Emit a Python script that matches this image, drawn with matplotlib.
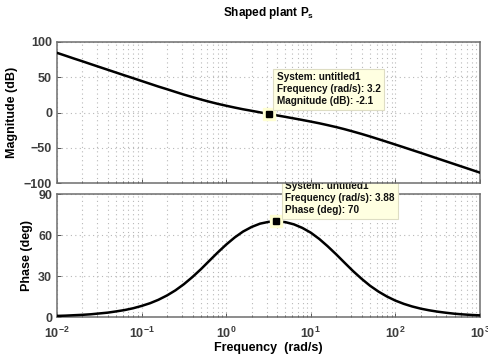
"""Bode plot of the shaped plant Ps with two MATLAB-style data tips."""

import matplotlib

matplotlib.use("Agg")
import matplotlib.pyplot as plt
import numpy as np
from matplotlib.ticker import FuncFormatter, LogLocator, NullFormatter

plt.rcParams["font.family"] = ["Liberation Sans", "DejaVu Sans"]
plt.rcParams["font.weight"] = "bold"
plt.rcParams["mathtext.fontset"] = "custom"
plt.rcParams["mathtext.rm"] = "Liberation Sans:bold"
plt.rcParams["mathtext.it"] = "Liberation Sans:bold"
plt.rcParams["mathtext.bf"] = "Liberation Sans:bold"

# values (rad/s, dB, deg)
freq = [
    0.01, 0.0126, 0.0158, 0.02, 0.0251, 0.0316, 0.0398, 0.0501, 0.0631, 0.0794,
    0.1, 0.126, 0.158, 0.2, 0.251, 0.316, 0.398, 0.501, 0.631, 0.794,
    1, 1.26, 1.58, 2, 2.51, 3.16, 3.98, 5.01, 6.31, 7.94,
    10, 12.6, 15.8, 20, 25.1, 31.6, 39.8, 50.1, 63.1, 79.4,
    100, 126, 158, 200, 251, 316, 398, 501, 631, 794, 1000,
]
mag_db = [
    84.6, 80.6, 76.6, 72.6, 68.6, 64.6, 60.6, 56.6, 52.6, 48.7,
    44.7, 40.7, 36.8, 33.0, 29.2, 25.4, 21.9, 18.5, 15.3, 12.3,
    9.6, 7.0, 4.6, 2.4, 0.2, -2.0, -4.1, -6.2, -8.4, -10.6,
    -12.9, -15.3, -17.9, -20.7, -23.7, -27.0, -30.4, -34.0, -37.8, -41.6,
    -45.5, -49.4, -53.3, -57.3, -61.3, -65.3, -69.3, -73.3, -77.3, -81.3, -85.3,
]
phase_deg = [
    0.8, 1.0, 1.3, 1.6, 2.0, 2.6, 3.2, 4.1, 5.1, 6.4,
    8.1, 10.1, 12.6, 15.8, 19.5, 24.0, 29.2, 34.9, 41.1, 47.2,
    53.0, 58.2, 62.5, 65.9, 68.3, 69.6, 70.0, 69.4, 67.8, 65.2,
    61.7, 57.1, 51.8, 45.8, 39.7, 33.6, 28.0, 22.9, 18.6, 15.0,
    12.0, 9.6, 7.7, 6.1, 4.9, 3.9, 3.1, 2.4, 1.9, 1.5, 1.2,
]

mag_tip = (3.2, -2.1)
phase_tip = (3.88, 70)
mag_ticks = [-100, -50, 0, 50, 100]
phase_ticks = [0, 30, 60, 90]

TICK_COLOR = "#3c3c3c"
SPINE_COLOR = "#6e6e6e"
GRID_COLOR = "#b8b8b8"
GRID_STYLE = (0, (1, 3))


def style_axes(ax):
    ax.set_xscale("log")
    ax.set_xlim(1e-2, 1e3)
    ax.xaxis.set_major_locator(LogLocator(base=10, numticks=10))
    ax.xaxis.set_minor_locator(LogLocator(base=10, subs=np.arange(2, 10), numticks=20))
    ax.xaxis.set_minor_formatter(NullFormatter())
    ax.grid(True, which="major", axis="both", linestyle=GRID_STYLE, linewidth=0.8, color=GRID_COLOR)
    ax.grid(True, which="minor", axis="x", linestyle=GRID_STYLE, linewidth=0.8, color=GRID_COLOR)
    ax.tick_params(axis="both", which="both", direction="in", colors=TICK_COLOR,
                   labelsize=9, length=3, width=0.6)
    ax.tick_params(axis="both", which="minor", length=1.8)
    ax.tick_params(axis="x", which="major", pad=6)
    for sp in ax.spines.values():
        sp.set_color(SPINE_COLOR)
        sp.set_linewidth(1.1)


def datatip(ax, xy, text, offset):
    ax.plot(*xy, marker="s", markersize=8, color="#ffffd2", markeredgecolor="#ffffd2", zorder=5)
    ax.plot(*xy, marker="s", markersize=4.5, color="black", zorder=6)
    ax.annotate(
        text, xy=xy, xytext=offset, textcoords="offset points",
        ha="left", va="bottom", fontsize=7.2, fontweight="bold", color="#111111",
        linespacing=1.25, annotation_clip=False, zorder=7,
        bbox=dict(boxstyle="square,pad=0.35", facecolor="#ffffe1", edgecolor="#deddc4", linewidth=0.8),
    )


fig = plt.figure(figsize=(4.88, 3.58), dpi=100)
ax1 = fig.add_axes([0.1168, 0.4888, 0.8668, 0.3939])
ax2 = fig.add_axes([0.1168, 0.1145, 0.8668, 0.3436])
ax1.set_zorder(3)
ax2.set_zorder(1)

ax1.plot(freq, mag_db, color="black", linewidth=1.8, zorder=4)
style_axes(ax1)
ax1.set_ylim(-100, 100)
ax1.set_yticks(mag_ticks)
ax1.xaxis.set_major_formatter(NullFormatter())
ax1.set_ylabel("Magnitude (dB)", fontsize=9, fontweight="bold", labelpad=4)
ax1.set_title("Shaped plant P$_\\mathrm{s}$", fontsize=8.5, fontweight="bold", pad=19)
datatip(ax1, mag_tip, "System: untitled1\nFrequency (rad/s): 3.2\nMagnitude (dB): -2.1", (5.5, 5.5))

ax2.plot(freq, phase_deg, color="black", linewidth=1.8, zorder=4)
style_axes(ax2)
ax2.set_ylim(0, 90)
ax2.set_yticks(phase_ticks)
ax2.xaxis.set_major_formatter(FuncFormatter(lambda v, p: r"$10^{%d}$" % round(np.log10(v))))
ax2.set_ylabel("Phase (deg)", fontsize=9, fontweight="bold", labelpad=4)
ax2.set_xlabel("Frequency  (rad/s)", fontsize=9, fontweight="bold", labelpad=1)
datatip(ax2, phase_tip, "System: untitled1\nFrequency (rad/s): 3.88\nPhase (deg): 70", (6.5, 4.5))

fig.savefig("out.png", dpi=100, facecolor="white")
